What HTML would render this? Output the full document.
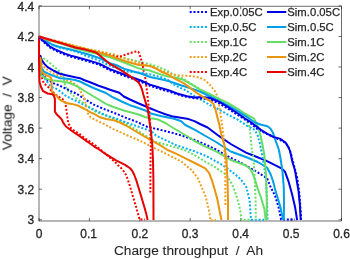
<!DOCTYPE html>
<html><head><meta charset="utf-8"><style>
html,body{margin:0;padding:0;background:#fff;width:350px;height:259px;overflow:hidden}
svg{display:block}
text{font-family:"Liberation Sans",sans-serif;fill:#262626}
.lg text{stroke:#262626;stroke-width:0.25px}
</style></head><body>
<svg width="350" height="259" viewBox="0 0 350 259">
<rect width="350" height="259" fill="#fff"/>
<g><rect x="39.0" y="6.2" width="302.5" height="214.8" fill="none" stroke="#262626" stroke-width="0.67"/>
<path d="M39.0 221.0 V218.0 M39.0 6.2 V9.2 M89.4 221.0 V218.0 M89.4 6.2 V9.2 M139.8 221.0 V218.0 M139.8 6.2 V9.2 M190.2 221.0 V218.0 M190.2 6.2 V9.2 M240.7 221.0 V218.0 M240.7 6.2 V9.2 M291.1 221.0 V218.0 M291.1 6.2 V9.2 M341.5 221.0 V218.0 M341.5 6.2 V9.2 M39.0 5.9 H42.0 M341.5 5.9 H338.5 M39.0 36.5 H42.0 M341.5 36.5 H338.5 M39.0 67.0 H42.0 M341.5 67.0 H338.5 M39.0 97.6 H42.0 M341.5 97.6 H338.5 M39.0 128.1 H42.0 M341.5 128.1 H338.5 M39.0 158.7 H42.0 M341.5 158.7 H338.5 M39.0 189.2 H42.0 M341.5 189.2 H338.5 M39.0 219.8 H42.0 M341.5 219.8 H338.5" stroke="#262626" stroke-width="0.67" fill="none"/></g>
<g><path d="M40.0 56.6 L41.2 56.8 L44.7 59.0 L47.6 61.3 L50.5 63.6 L54.0 66.5 L58.6 70.5 L63.2 75.2 L64.8 84.3 L67.1 90.0 L76.4 98.2 L96.0 112.0 L123.8 122.1 L156.0 142.0 L176.0 147.4 L185.3 150.5 L194.5 155.0 L205.3 161.6 L216.9 168.3 L226.5 175.1 L232.3 184.7 L236.0 194.4 L238.5 203.0 L240.4 211.3 L241.6 219.7 L250.5 219.7" stroke="#66e066" stroke-width="2" fill="none" stroke-dasharray="2 1.8" stroke-linejoin="round"/>
<path d="M39.5 64.0 L43.0 76.0 L46.8 81.3 L49.9 85.2 L53.2 87.7 L56.0 88.6 L59.1 90.6 L62.2 92.9 L66.0 96.0 L75.3 100.5 L86.0 106.0 L93.8 109.5 L101.4 113.2 L106.0 115.3 L116.9 119.0 L126.0 122.3 L137.7 126.5 L151.6 131.3 L156.0 135.6 L176.0 145.1 L185.3 148.2 L194.5 151.3 L203.8 155.1 L209.2 157.5 L220.7 164.0 L228.5 169.3 L236.0 175.1 L240.5 179.0 L246.1 186.3 L249.6 200.0 L251.0 219.7 L264.0 219.7" stroke="#00b0f0" stroke-width="2" fill="none" stroke-dasharray="2 1.8" stroke-linejoin="round"/>
<path d="M39.5 62.0 L42.0 72.0 L46.0 79.0 L53.2 83.1 L56.0 84.4 L59.1 85.2 L62.6 87.1 L65.3 88.3 L69.3 90.2 L72.7 92.1 L76.2 93.5 L84.5 99.0 L93.8 104.6 L103.1 108.7 L109.9 111.2 L116.9 114.0 L126.0 117.8 L137.7 122.2 L147.1 126.8 L156.0 128.8 L173.2 133.0 L184.7 136.5 L196.0 140.5 L207.6 145.5 L216.0 149.5 L229.9 157.4 L243.8 164.3 L257.7 172.4 L267.0 178.2 L270.3 186.3 L275.1 195.9 L278.7 207.8 L281.1 219.6 L295.0 219.6" stroke="#0000ff" stroke-width="2" fill="none" stroke-dasharray="2 1.8" stroke-linejoin="round"/>
<path d="M39.8 60.0 L41.6 64.2 L43.2 65.7 L44.7 67.7 L47.8 70.0 L50.9 71.9 L54.0 73.8 L58.0 75.0 L60.8 76.3 L64.0 78.3 L67.7 80.6 L70.8 81.7 L73.9 83.3 L77.0 85.6 L79.3 88.3 L81.4 92.8 L84.5 99.0 L86.1 105.2 L87.6 112.9 L90.7 117.5 L96.9 120.6 L104.5 124.2 L113.8 129.4 L123.1 133.4 L130.0 136.5 L140.0 140.8 L153.9 147.8 L167.8 154.7 L181.7 161.7 L186.0 165.5 L191.5 170.0 L197.7 178.0 L201.4 186.7 L205.3 195.4 L207.5 204.0 L209.5 213.0 L210.5 220.5 L216.0 220.0" stroke="#f0a020" stroke-width="2" fill="none" stroke-dasharray="2 1.8" stroke-linejoin="round"/>
<path d="M39.5 70.0 L42.3 78.8 L43.9 83.5 L47.0 85.8 L49.3 88.1 L51.6 91.2 L55.0 94.0 L58.5 96.6 L62.4 98.9 L65.4 102.9 L66.4 109.7 L67.4 117.4 L68.3 123.2 L71.2 128.5 L75.0 131.3 L79.0 133.6 L85.3 138.5 L88.6 140.6 L96.3 146.2 L103.8 152.5 L111.5 158.9 L116.0 163.0 L118.3 165.5 L121.5 168.5 L123.9 171.5 L126.0 175.0 L128.0 180.0 L130.2 187.0 L132.2 194.0 L134.3 201.0 L136.4 208.0 L139.2 218.0 L139.5 219.6 L145.0 219.6" stroke="#ff0000" stroke-width="2" fill="none" stroke-dasharray="2 1.8" stroke-linejoin="round"/>
<path d="M39.5 65.0 L40.6 74.6 L43.0 76.9 L47.6 79.2 L53.4 80.4 L60.0 81.3 L67.7 82.5 L73.9 84.8 L80.0 87.9 L84.5 91.0 L93.8 96.5 L106.0 103.8 L112.0 106.5 L119.4 109.0 L123.8 110.5 L134.0 113.3 L137.7 114.3 L145.0 117.0 L150.0 118.3 L157.7 119.3 L165.4 123.0 L173.2 128.0 L181.7 133.0 L188.6 137.0 L194.5 141.0 L203.8 145.8 L216.0 151.3 L230.7 160.0 L246.0 165.5 L250.7 169.5 L254.2 177.1 L257.7 188.6 L260.8 197.0 L264.4 209.0 L265.6 220.0" stroke="#66dd66" stroke-width="2" fill="none" stroke-linejoin="round"/>
<path d="M39.5 60.0 L41.8 68.2 L44.1 71.7 L47.6 73.4 L53.4 75.8 L60.0 78.2 L67.6 78.8 L75.0 80.0 L80.0 81.5 L85.0 84.0 L94.6 88.5 L106.0 93.0 L112.0 96.8 L123.8 102.5 L130.0 105.2 L137.7 107.8 L146.0 110.8 L150.0 113.2 L161.6 116.2 L173.2 118.5 L180.9 121.0 L185.3 125.0 L194.5 129.6 L203.8 135.0 L216.0 142.0 L230.7 151.5 L246.0 157.0 L257.7 162.0 L262.0 164.5 L267.0 167.5 L270.5 174.0 L273.0 181.0 L275.5 190.8 L280.3 206.7 L283.0 219.4 L283.2 220.0" stroke="#00a0e6" stroke-width="2" fill="none" stroke-linejoin="round"/>
<path d="M40.0 55.0 L40.6 56.6 L41.8 60.1 L44.1 63.6 L47.6 67.1 L53.4 70.5 L59.2 73.5 L66.0 75.2 L71.7 76.5 L75.3 77.3 L80.0 78.2 L84.0 80.0 L90.7 82.5 L98.0 85.5 L106.0 88.3 L110.0 89.7 L119.3 92.8 L123.8 96.5 L130.0 99.5 L137.7 103.0 L146.0 106.5 L150.0 108.3 L157.7 111.4 L165.4 114.3 L173.2 116.6 L180.9 117.8 L188.6 119.1 L194.4 121.1 L200.0 124.0 L207.6 127.5 L219.2 136.2 L230.7 144.0 L246.0 152.6 L253.1 155.5 L266.0 160.6 L275.5 165.4 L281.9 168.6 L285.0 171.7 L288.5 181.3 L292.0 194.0 L295.0 206.7 L297.0 219.4 L297.2 220.0" stroke="#0000e6" stroke-width="2" fill="none" stroke-linejoin="round"/>
<path d="M40.3 57.0 L41.2 62.5 L41.4 69.5 L42.2 72.0 L43.2 73.4 L46.3 75.4 L49.4 76.5 L51.0 77.6 L51.6 82.0 L51.8 91.7 L53.0 93.3 L55.3 94.8 L56.8 95.6 L57.6 97.1 L58.7 98.7 L61.4 100.6 L66.0 102.9 L71.7 103.9 L77.7 105.5 L84.7 109.0 L90.6 112.3 L94.4 114.0 L100.0 117.3 L106.1 119.0 L113.8 120.3 L120.0 122.5 L126.0 125.5 L137.7 132.5 L149.9 139.6 L160.0 145.2 L167.6 150.0 L176.0 153.6 L186.0 158.7 L195.7 163.5 L205.3 168.3 L209.2 173.2 L212.1 180.9 L215.0 190.5 L217.3 199.0 L219.6 211.0 L221.5 220.0" stroke="#e6960f" stroke-width="2" fill="none" stroke-linejoin="round"/>
<path d="M39.0 36.5 L39.0 60.0 L39.5 82.0 L40.8 86.5 L43.1 91.2 L47.7 93.5 L52.4 94.3 L53.9 95.8 L54.9 98.9 L54.9 111.6 L56.8 114.5 L59.5 117.0 L61.6 119.3 L63.5 123.2 L66.0 126.5 L69.3 129.0 L74.0 132.5 L79.0 135.7 L85.3 140.3 L88.6 142.5 L94.5 146.8 L97.3 148.3 L103.8 152.8 L110.0 156.6 L116.0 160.4 L121.1 162.8 L125.0 164.8 L128.0 166.8 L130.3 168.5 L132.2 170.8 L134.3 175.0 L136.4 180.6 L138.5 187.5 L140.6 194.4 L142.7 201.5 L144.7 208.3 L146.3 214.0 L147.5 219.4 L147.6 220.0" stroke="#e60000" stroke-width="2" fill="none" stroke-linejoin="round"/>
<path d="M39.0 36.5 L59.2 42.5 L82.3 48.0 L96.0 51.0 L123.8 58.0 L145.0 63.0 L149.6 64.2 L155.4 65.9 L161.2 68.2 L167.0 70.5 L173.1 74.5 L183.8 79.0 L193.0 85.0 L200.0 89.0 L210.0 95.0 L220.0 101.0 L230.0 107.0 L240.0 114.0 L246.0 120.0 L249.5 127.0 L250.6 136.3 L251.8 150.0 L253.6 158.5 L254.6 177.1 L255.6 200.0 L255.8 220.0" stroke="#66e066" stroke-width="2" fill="none" stroke-dasharray="2 1.8" stroke-linejoin="round"/>
<path d="M39.0 36.5 L45.0 41.0 L53.4 45.5 L59.2 47.6 L70.8 50.3 L76.0 51.6 L87.6 56.4 L99.2 60.6 L110.0 65.7 L125.4 71.4 L138.0 72.5 L149.6 74.2 L161.2 77.3 L168.0 80.0 L175.7 85.7 L185.3 90.0 L194.5 96.0 L203.8 101.5 L210.0 105.0 L219.3 109.6 L228.5 115.0 L237.8 119.7 L247.1 125.8 L254.0 129.5 L257.3 134.0 L259.8 143.3 L262.8 158.5 L265.8 177.1 L267.0 200.0 L267.5 220.0" stroke="#00b0f0" stroke-width="2" fill="none" stroke-dasharray="2 1.8" stroke-linejoin="round"/>
<path d="M39.0 36.5 L40.6 39.0 L43.0 41.5 L45.3 43.5 L47.6 45.5 L49.9 47.5 L54.6 50.2 L59.2 52.3 L65.0 54.7 L70.8 56.7 L76.0 58.1 L87.6 61.3 L99.2 64.8 L110.0 70.3 L125.4 76.2 L140.9 81.8 L150.0 85.8 L160.0 89.0 L175.7 93.7 L183.6 96.2 L194.5 98.3 L202.5 98.6 L210.0 99.5 L219.3 103.5 L228.5 109.0 L237.8 115.0 L250.0 122.8 L257.7 129.4 L267.0 134.0 L279.0 139.5 L285.5 143.0 L288.0 146.5 L289.8 150.0 L291.0 154.0 L292.2 158.6 L293.6 164.0 L295.2 170.0 L297.2 178.0 L299.0 190.0 L300.2 204.0 L300.8 214.0 L301.1 220.0" stroke="#0000ff" stroke-width="2" fill="none" stroke-dasharray="2 1.8" stroke-linejoin="round"/>
<path d="M39.0 36.5 L45.0 38.5 L59.2 41.5 L76.0 46.1 L87.6 49.0 L99.2 51.3 L110.8 53.7 L116.0 54.8 L121.5 57.3 L127.7 59.6 L133.9 61.2 L140.1 63.5 L146.3 65.6 L151.9 66.8 L156.5 68.5 L161.2 70.5 L165.3 72.0 L172.2 74.2 L179.2 75.5 L191.0 76.0 L199.1 77.3 L205.3 80.4 L210.0 85.0 L214.7 90.8 L217.6 96.6 L218.5 100.5 L220.5 114.0 L222.0 123.7 L223.4 135.0 L224.0 145.0 L225.1 161.0 L225.3 180.0 L225.4 206.7" stroke="#f0a020" stroke-width="2" fill="none" stroke-dasharray="2 1.8" stroke-linejoin="round"/>
<path d="M39.0 36.5 L50.0 39.8 L60.0 42.8 L76.0 47.5 L96.0 52.0 L109.9 55.5 L116.0 56.8 L120.0 56.5 L124.6 55.0 L129.3 53.4 L133.9 51.9 L137.0 51.3 L138.5 52.0 L140.3 56.6 L141.5 60.7 L142.6 64.7 L143.2 68.2 L144.4 74.0 L145.5 79.2 L146.3 85.9 L147.1 92.1 L148.0 100.0 L149.3 112.8 L150.4 126.7 L150.8 145.0 L150.5 165.0 L150.3 192.6" stroke="#ff0000" stroke-width="2" fill="none" stroke-dasharray="2 1.8" stroke-linejoin="round"/>
<path d="M39.0 36.5 L45.0 39.3 L59.2 43.0 L76.0 48.5 L87.6 51.5 L99.2 54.2 L110.8 57.6 L125.4 63.0 L138.0 68.2 L149.6 70.5 L161.2 74.6 L168.0 76.5 L175.7 77.8 L183.6 79.8 L191.4 84.3 L200.7 90.0 L210.0 94.2 L219.3 98.8 L228.5 103.4 L237.8 108.8 L245.5 114.0 L250.0 116.3 L253.9 118.4 L257.4 125.1 L259.0 130.0 L260.8 136.7 L262.5 145.0 L264.3 155.0 L266.0 175.0 L266.8 200.0 L266.5 220.0" stroke="#66dd66" stroke-width="2" fill="none" stroke-linejoin="round"/>
<path d="M39.0 36.5 L40.8 37.7 L43.0 39.2 L47.5 41.9 L53.0 45.0 L58.8 46.8 L65.0 48.3 L70.8 49.4 L76.0 51.0 L87.6 54.3 L99.2 58.0 L110.0 63.2 L116.0 65.0 L125.4 69.3 L140.9 73.5 L150.0 77.0 L160.9 79.3 L168.5 81.0 L180.9 85.3 L196.3 90.1 L203.0 93.0 L210.0 96.5 L219.3 101.1 L228.5 105.8 L237.8 111.2 L246.0 116.3 L250.7 119.5 L255.0 122.5 L261.2 124.7 L267.4 126.2 L270.4 128.5 L272.8 132.4 L275.1 139.3 L277.4 145.5 L278.9 150.0 L280.3 157.0 L282.5 171.7 L283.8 187.6 L284.0 205.0 L283.8 220.0" stroke="#00a0e6" stroke-width="2" fill="none" stroke-linejoin="round"/>
<path d="M39.0 36.5 L40.6 38.4 L43.0 40.7 L45.3 42.6 L47.6 44.6 L49.9 46.5 L54.6 49.2 L59.2 51.2 L65.0 53.6 L70.8 55.6 L76.0 57.0 L87.6 60.1 L99.2 63.6 L110.0 69.1 L125.4 75.0 L140.9 80.5 L150.0 84.6 L160.0 87.8 L168.5 90.1 L177.0 93.5 L187.0 96.3 L195.0 97.5 L202.5 97.0 L210.0 98.0 L219.3 101.9 L228.5 107.3 L237.8 113.5 L245.0 118.5 L250.0 121.5 L255.0 125.4 L261.2 130.1 L267.4 133.9 L273.5 137.0 L279.7 138.6 L282.3 140.2 L285.5 142.5 L287.0 144.8 L288.8 148.0 L290.0 151.0 L291.0 155.0 L291.7 159.0 L293.0 164.0 L294.3 168.0 L295.2 171.7 L296.8 181.0 L298.5 190.8 L299.8 204.0 L300.4 214.0 L300.7 220.0" stroke="#0000e6" stroke-width="2" fill="none" stroke-linejoin="round"/>
<path d="M39.0 36.5 L45.0 39.0 L59.2 42.5 L76.0 46.8 L87.6 49.5 L99.2 52.5 L110.8 56.0 L125.4 61.2 L138.0 64.7 L145.0 65.3 L151.9 66.5 L156.5 68.8 L161.2 71.7 L167.0 74.0 L175.7 79.1 L183.6 83.1 L191.4 88.9 L197.6 93.5 L203.8 97.4 L210.8 101.4 L213.7 104.3 L215.6 110.1 L217.6 117.9 L219.5 125.6 L221.4 135.0 L223.0 140.0 L224.5 145.5 L226.5 161.0 L227.5 180.0 L228.0 200.0 L228.0 220.0" stroke="#e6960f" stroke-width="2" fill="none" stroke-linejoin="round"/>
<path d="M39.0 36.5 L50.0 39.8 L60.0 42.8 L76.0 47.8 L85.3 49.6 L93.4 51.7 L97.0 53.2 L101.5 57.0 L106.0 60.8 L110.0 64.0 L116.2 67.4 L122.4 71.2 L128.5 75.1 L134.7 79.5 L138.6 82.5 L141.0 86.8 L142.3 90.5 L143.3 94.5 L145.6 102.3 L147.9 110.0 L148.7 116.0 L149.7 123.0 L151.0 132.0 L152.3 145.0 L153.0 160.0 L153.4 180.0 L153.5 220.0" stroke="#e60000" stroke-width="2" fill="none" stroke-linejoin="round"/></g>
<defs><filter id="bl" x="-10%" y="-10%" width="120%" height="120%"><feGaussianBlur stdDeviation="0.3"/></filter></defs>
<g font-size="12" filter="url(#bl)" stroke="#262626" stroke-width="0.3"><text x="39.0" y="238" text-anchor="middle">0</text>
<text x="88.6" y="238" text-anchor="middle">0.1</text>
<text x="139.8" y="238" text-anchor="middle">0.2</text>
<text x="190.2" y="238" text-anchor="middle">0.3</text>
<text x="240.7" y="238" text-anchor="middle">0.4</text>
<text x="291.1" y="238" text-anchor="middle">0.5</text>
<text x="341.5" y="238" text-anchor="middle">0.6</text>
<text x="34.3" y="10.6" text-anchor="end">4.4</text>
<text x="34.3" y="41.2" text-anchor="end">4.2</text>
<text x="34.3" y="71.7" text-anchor="end">4</text>
<text x="34.3" y="102.3" text-anchor="end">3.8</text>
<text x="34.3" y="132.8" text-anchor="end">3.6</text>
<text x="34.3" y="163.3" text-anchor="end">3.4</text>
<text x="34.3" y="193.9" text-anchor="end">3.2</text>
<text x="34.3" y="224.4" text-anchor="end">3</text></g>
<g filter="url(#bl)" stroke="#262626" stroke-width="0.1"><text x="188.5" y="255.3" text-anchor="middle" font-size="13.7" xml:space="preserve">Charge throughput  /  Ah</text>
<text transform="translate(11.6,113.2) rotate(-90)" text-anchor="middle" font-size="13.7" xml:space="preserve">Voltage  /  V</text></g>
<g class="lg" font-size="11.3"><path d="M189.7 12.0 H207.5" stroke="#0000ff" stroke-width="2" stroke-dasharray="2 1.8"/>
<text x="210" y="16.4">Exp.0.05C</text>
<path d="M267 12.0 H286.3" stroke="#0000e6" stroke-width="2"/>
<text x="287.3" y="16.4">Sim.0.05C</text>
<path d="M189.7 27.0 H207.5" stroke="#00b0f0" stroke-width="2" stroke-dasharray="2 1.8"/>
<text x="210" y="31.4">Exp.0.5C</text>
<path d="M267 27.0 H286.3" stroke="#00a0e6" stroke-width="2"/>
<text x="287.3" y="31.4">Sim.0.5C</text>
<path d="M189.7 42.0 H207.5" stroke="#66e066" stroke-width="2" stroke-dasharray="2 1.8"/>
<text x="210" y="46.4">Exp.1C</text>
<path d="M267 42.0 H286.3" stroke="#66dd66" stroke-width="2"/>
<text x="287.3" y="46.4">Sim.1C</text>
<path d="M189.7 57.0 H207.5" stroke="#f0a020" stroke-width="2" stroke-dasharray="2 1.8"/>
<text x="210" y="61.4">Exp.2C</text>
<path d="M267 57.0 H286.3" stroke="#e6960f" stroke-width="2"/>
<text x="287.3" y="61.4">Sim.2C</text>
<path d="M189.7 72.0 H207.5" stroke="#ff0000" stroke-width="2" stroke-dasharray="2 1.8"/>
<text x="210" y="76.4">Exp.4C</text>
<path d="M267 72.0 H286.3" stroke="#e60000" stroke-width="2"/>
<text x="287.3" y="76.4">Sim.4C</text></g>
</svg>
</body></html>
